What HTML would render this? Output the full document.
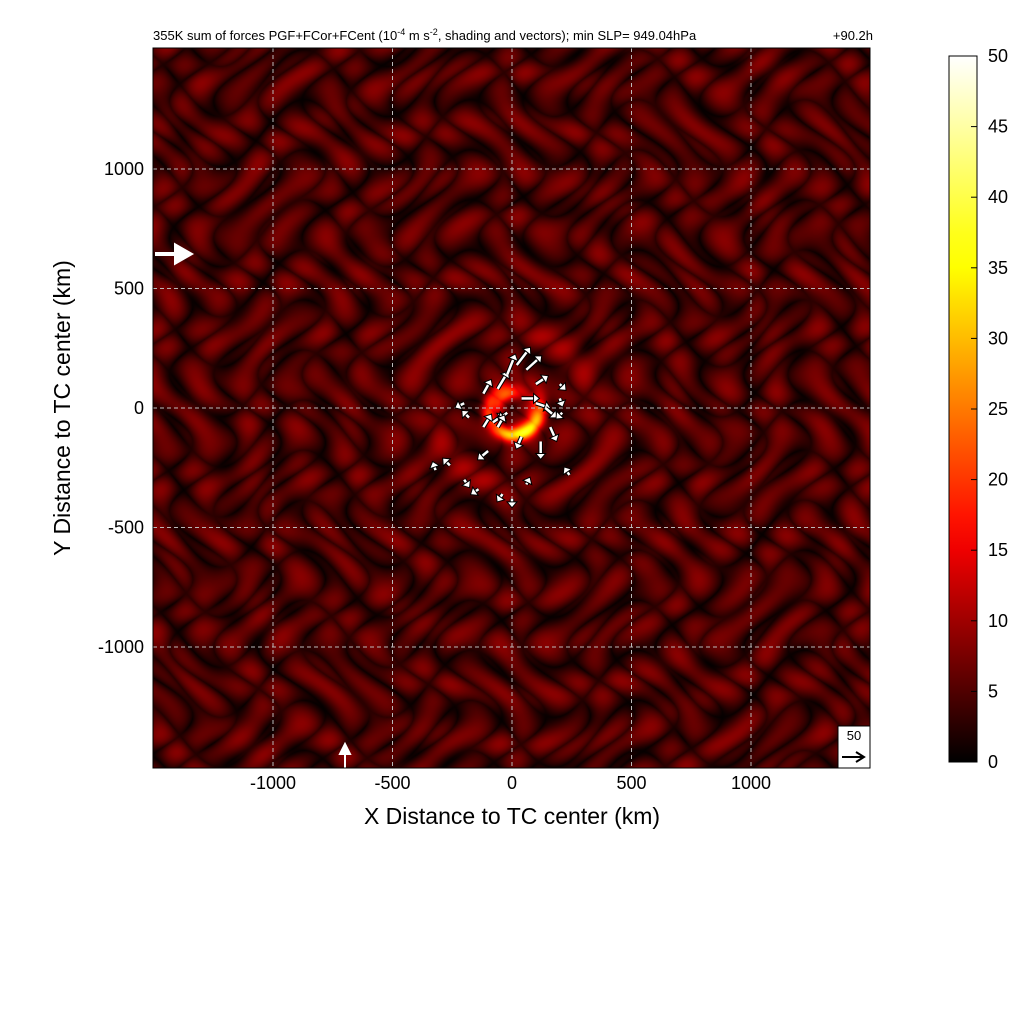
<!DOCTYPE html>
<html><head><meta charset="utf-8"><style>
body{margin:0;background:#fff;width:1024px;height:1024px;overflow:hidden;position:relative;font-family:"Liberation Sans",sans-serif}
#hm{position:absolute;left:153px;top:48px}
#ov{position:absolute;left:0;top:0}
</style></head><body>
<canvas id="hm" width="717" height="720"></canvas>
<svg id="ov" width="1024" height="1024"></svg>
<script>
// Data
const xTicks=[-1000,-500,0,500,1000];
const yTicks=[-1000,-500,0,500,1000];
const cbTicks=[0,5,10,15,20,25,30,35,40,45,50];
// vectors: x km, y km, u, v (10^-4 m s^-2)
const vecX=[-120,-60,-20,20,60,100,-200,-180,-120,-80,40,100,140,160,120,40,-20,-60,-100,200,200,210,-260,-200,-140,-40,0,60,240,-320];
const vecY=[60,80,140,180,160,100,20,-40,-80,-60,40,20,0,-80,-140,-120,-20,-80,-180,100,40,-20,-240,-300,-340,-360,-380,-320,-280,-260];
const vecU=[10,15,12,20,22,15,-8,-6,10,14,24,18,14,8,0,-6,-8,8,-12,4,2,-4,-6,4,-6,-4,0,2,-4,-2];
const vecV=[18,25,30,26,20,10,-4,6,16,10,0,-6,-12,-18,-24,-14,-6,14,-10,-4,-6,-4,6,-6,-4,-6,-6,4,6,6];

const X0=153,X1=870,Y0=48,Y1=768;
const xs=v=>512+v*0.239, ys=v=>408-v*0.239;
const cbY=v=>762-v*(706/50);

function hot(t){t=Math.max(0,Math.min(1,t));
 return [Math.min(1,t/0.32)*255,Math.max(0,Math.min(1,(t-0.32)/0.38))*255,Math.max(0,Math.min(1,(t-0.72)/0.28))*255];}
const cv=document.getElementById('hm'),ctx=cv.getContext('2d');
const W=717,H=720,img=ctx.createImageData(W,H);
for(let j=0;j<H;j++)for(let i=0;i<W;i++){
 const kx=(i+153-512)/0.239, ky=(408-(j+48))/0.239;
 const r=Math.hypot(kx,ky), a=Math.atan2(ky,kx);
 const s=Math.abs(Math.sin(kx*0.017+Math.sin(ky*0.011)*2.4)*Math.cos(ky*0.015+Math.sin(kx*0.009)*2.1));
 let v=1.5+6*Math.pow(s,0.7)+1.2*Math.sin(r*0.03-a*2);
 let ring=Math.exp(-Math.pow((r-105)/35,2))*(10+22*Math.max(0,Math.sin(a+2.4))+6*Math.sin(r*0.05-a));
 ring+=Math.exp(-Math.pow((r-60)/25,2))*14*Math.max(0,Math.sin(a-0.6));
 v+=ring;
 v+=3*Math.exp(-Math.pow((r-330)/70,2))*(0.5+0.5*Math.sin(a*2+r*0.02));
 const c=hot(v/50),p=(j*W+i)*4;
 img.data[p]=c[0];img.data[p+1]=c[1];img.data[p+2]=c[2];img.data[p+3]=255;}
ctx.putImageData(img,0,0);

const svg=document.getElementById('ov'),NS='http://www.w3.org/2000/svg';
function mk(t,at,par){const e=document.createElementNS(NS,t);for(const k in at)e.setAttribute(k,at[k]);(par||svg).appendChild(e);return e;}
function txt(s,x,y,sz,anc,name){const e=mk('text',{x:x,y:y,'font-size':sz,'text-anchor':anc||'middle','font-family':'Liberation Sans, sans-serif'});e.textContent=s;

return e;}

xTicks.forEach(v=>{const l=mk('line',{x1:xs(v),x2:xs(v),y1:Y0,y2:Y1,stroke:'#bbb','stroke-dasharray':'4,3','stroke-width':1});


txt(v,xs(v),789,18,'middle','x-tick-label');});
yTicks.forEach(v=>{const l=mk('line',{x1:X0,x2:X1,y1:ys(v),y2:ys(v),stroke:'#bbb','stroke-dasharray':'4,3','stroke-width':1});


txt(v,144,ys(v)+6,18,'end','y-tick-label');});

vecX.forEach((x,k)=>{const px=xs(x),py=ys(vecY[k]),u=vecU[k]*0.5,w=-vecV[k]*0.5;
 const L=Math.hypot(u,w)||1,ux=u/L,uy=w/L,ex=px+u,ey=py+w;
 const g=mk('g',{});
 
 
 mk('line',{x1:px,y1:py,x2:ex,y2:ey,stroke:'#000','stroke-width':4.5},g);
 mk('line',{x1:px,y1:py,x2:ex,y2:ey,stroke:'#fff','stroke-width':2.5},g);
 mk('polygon',{points:`${ex+ux*6},${ey+uy*6} ${ex-uy*5},${ey+ux*5} ${ex+uy*5},${ey-ux*5}`,fill:'#fff',stroke:'#000','stroke-width':1},g);});
mk('path',{d:'M155,254 L180,254 M176,246 L190,254 L176,262 Z',stroke:'#fff','stroke-width':4,fill:'#fff'});
mk('path',{d:'M345,768 L345,752 M340,754 L345,744 L350,754 Z',stroke:'#fff','stroke-width':2,fill:'#fff'});

const fr=mk('rect',{x:X0,y:Y0,width:X1-X0,height:Y1-Y0,fill:'none',stroke:'#000','stroke-width':1});


const rb=mk('rect',{x:838,y:726,width:32,height:42,fill:'#fff',stroke:'#000'});


txt('50',854,740,13,'middle','reference-vector-label');
mk('path',{d:'M842,757 L862,757 M856,752 L864,757 L856,762',stroke:'#000','stroke-width':2,fill:'none'});

const t=txt('',153,40,13,'start','chart-title');
t.innerHTML='355K sum of forces PGF+FCor+FCent (10<tspan dy="-5" font-size="9">-4</tspan><tspan dy="5"> m s</tspan><tspan dy="-5" font-size="9">-2</tspan><tspan dy="5">, shading and vectors); min SLP= 949.04hPa</tspan>';
txt('+90.2h',873,40,13,'end','forecast-hour');
txt('X Distance to TC center (km)',512,824,23,'middle','x-axis-title');
const yt=txt('Y Distance to TC center (km)',70,408,23,'middle','y-axis-title');yt.setAttribute('transform','rotate(-90 70 408)');

const defs=mk('defs',{});const lg=mk('linearGradient',{id:'cb',x1:0,y1:1,x2:0,y2:0},defs);
for(let s=0;s<=20;s++){const c=hot(s/20);mk('stop',{offset:s/20,'stop-color':`rgb(${c.map(Math.round).join(',')})`},lg);}
const cb=mk('rect',{x:949,y:56,width:28,height:706,fill:'url(#cb)',stroke:'#000'});


cbTicks.forEach(v=>{mk('line',{x1:971,x2:977,y1:cbY(v),y2:cbY(v),stroke:'#000'});txt(v,988,cbY(v)+6,18,'start','colorbar-tick-label');});
</script></body></html>
